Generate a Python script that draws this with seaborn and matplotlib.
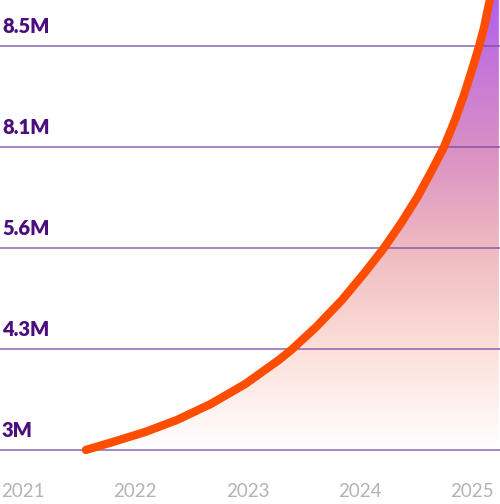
import numpy as np
import pandas as pd
import seaborn as sns
import matplotlib.pyplot as plt
from matplotlib.colors import LinearSegmentedColormap
from matplotlib.patches import Polygon
import matplotlib.transforms as mtransforms

# DATA ------------------------------------------------------------------
years = [2021, 2022, 2023, 2024, 2025]
level_labels = ['3M', '4.3M', '5.6M', '8.1M', '8.5M']  # evenly spaced rows
levels = [0, 1, 2, 3, 4]

# curve (year position, row level)
curve_x = [2021.560, 2021.800, 2022.088, 2022.372, 2022.672, 2022.980,
           2023.280, 2023.400, 2023.612, 2023.842, 2024.042, 2024.216,
           2024.370, 2024.515, 2024.645, 2024.751, 2024.849, 2024.929,
           2025.000, 2025.062, 2025.109, 2025.146, 2025.168]
curve_y = [0.000, 0.079, 0.178, 0.297, 0.455, 0.653,
           0.891, 1.000, 1.218, 1.485, 1.752, 2.000,
           2.248, 2.505, 2.772, 3.000, 3.267, 3.515,
           3.762, 3.990, 4.188, 4.386, 4.495]

df = pd.DataFrame({'year': curve_x, 'level': curve_y})

# STYLE -----------------------------------------------------------------
sns.set_style('white')
plt.rcParams['font.family'] = ['Lato', 'DejaVu Sans']

fig = plt.figure(figsize=(5.0, 5.04), dpi=100)
ax = fig.add_axes([0, 0, 1, 1])

x_min, x_max = 2020.795, 2025.25
y_min, y_max = -0.535, 4.455

# gradient fill under the curve
cmap = LinearSegmentedColormap.from_list('fill', [
    (0.0, '#ffffff'),
    (0.22, '#fce0da'),
    (0.45, '#efb9c0'),
    (0.67, '#d990c4'),
    (0.90, '#c070de'),
    (1.0, '#b05ff2'),
])
grad = np.linspace(0, 1, 256).reshape(-1, 1)
img = ax.imshow(grad, cmap=cmap, origin='lower', aspect='auto',
                extent=[x_min, x_max, 0, y_max], zorder=1)
poly_pts = list(zip(curve_x, curve_y)) + [(x_max - 0.01, 4.6), (x_max - 0.01, 0)]
clip = Polygon(poly_pts, closed=True, transform=ax.transData, facecolor='none', edgecolor='none')
ax.add_patch(clip)
img.set_clip_path(clip)

# row lines and labels
blend = mtransforms.blended_transform_factory(ax.transAxes, ax.transData)
for lv, lab in zip(levels, level_labels):
    ax.axhline(lv, color='#7b4aa6', linewidth=1.1, alpha=0.85, zorder=2)
    ax.text(0.004, lv + 0.13, lab, transform=blend, ha='left', va='baseline',
            fontsize=14.5, fontweight='heavy', color='#4b0f7d')

# year labels
for yr in years:
    ax.text(yr, -0.415, str(yr), ha='center', va='center',
            fontsize=13.5, color='#b3b3b3')

# the line
sns.lineplot(data=df, x='year', y='level', sort=False, ax=ax,
             color='#ff4d00', linewidth=6, zorder=3)
ax.lines[-1].set_solid_capstyle('round')
ax.lines[-1].set_solid_joinstyle('round')
ax.set_xlim(x_min, x_max)
ax.set_ylim(y_min, y_max)
ax.set_axis_off()

fig.savefig('out.png', dpi=100)
